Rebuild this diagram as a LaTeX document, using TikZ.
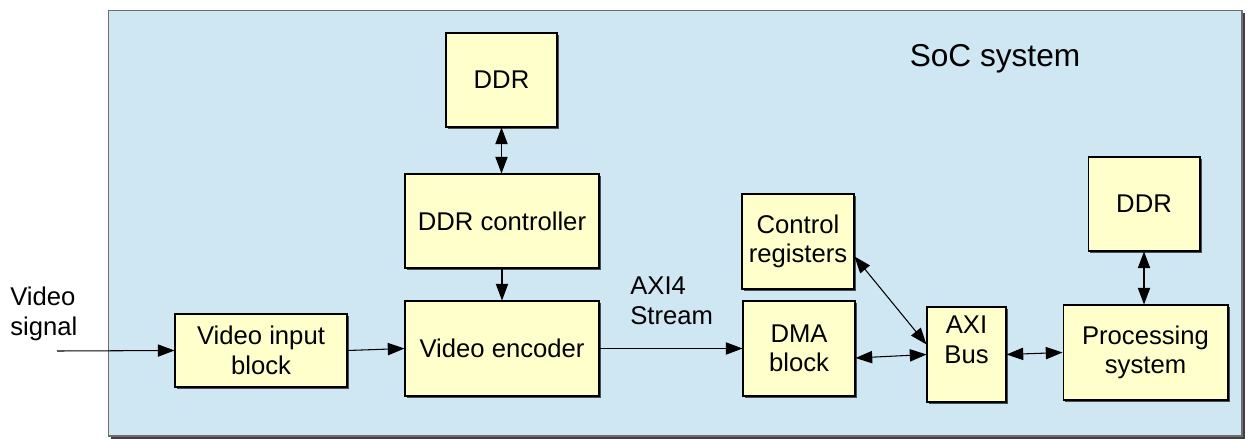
\documentclass[tikz,border=0pt]{standalone}
\usepackage{fontspec}
\setmainfont{Liberation Sans}
\usetikzlibrary{arrows.meta,shadows,calc}
\definecolor{socbg}{RGB}{207,230,243}
\definecolor{blkfill}{RGB}{255,255,204}
\definecolor{socborder}{RGB}{110,110,110}
\tikzset{
  blk/.style={draw=black, fill=blkfill, line width=0.6pt, inner sep=0pt, align=center,
    font=\fontsize{14.6}{16.8}\selectfont,
    drop shadow={shadow xshift=0.035cm, shadow yshift=-0.035cm, fill=black!70, opacity=1}},
  lbl/.style={inner sep=0pt, align=left, font=\fontsize{14.6}{16.8}\selectfont},
  conn/.style={line width=0.6pt, -{Triangle[length=9.5pt,width=7pt]}},
  bconn/.style={line width=0.6pt, {Triangle[length=9.5pt,width=7pt]}-{Triangle[length=9.5pt,width=7pt]}},
}
\begin{document}
\begin{tikzpicture}[x=0.02cm,y=-0.02cm]
\useasboundingbox (0,0) rectangle (1250,439);
% SoC system
\fill[black!75] (111,13) rectangle (1245,439);
\draw[socborder, fill=socbg, line width=1pt] (108.5,10.5) rectangle (1242,436);
\node[inner sep=0pt, font=\fontsize{18}{21}\selectfont] (soc) at (995,59) {SoC system};

% blocks
\node[blk, minimum width=2.22cm, minimum height=1.88cm] (ddra) at (501.5,80) {DDR};
\node[blk, minimum width=3.88cm, minimum height=1.88cm] (ddrc) at (502,221) {DDR controller};
\node[blk, minimum width=3.88cm, minimum height=1.9cm] (enc) at (502,348.5) {Video encoder};
\node[blk, minimum width=3.44cm, minimum height=1.46cm] (vin) at (261,350.5) {Video input\\block};
\node[blk, minimum width=2.24cm, minimum height=1.9cm] (ctrl) at (798,241.5) {Control\\registers};
\node[blk, minimum width=2.24cm, minimum height=1.9cm] (dma) at (799,348.5) {DMA\\block};
\node[blk, minimum width=1.58cm, minimum height=1.9cm] (axi) at (966.5,354.5) {AXI\\Bus\\\mbox{}};
\node[blk, minimum width=2.24cm, minimum height=1.88cm] (ddrb) at (1144,204) {DDR};
\node[blk, minimum width=3.3cm, minimum height=1.9cm] (ps) at (1145.5,352.5) {Processing\\system};

% labels
\node[lbl, anchor=west] (vsig) at (10,314) {Video\\signal};
\node[lbl, anchor=west] (axis) at (630,301) {AXI4\\Stream};

% connectors
\coordinate (vsin) at (57,351);
\draw[conn] (vsin) -- (vin.west);
\draw[conn] (vin.east) -- (enc.west);
\draw[bconn] (ddra.south) -- (ddra.south |- ddrc.north);
\draw[conn] (ddrc.south) -- (enc.north);
\draw[conn] (enc.east) -- (dma.west);
\draw[bconn] ([yshift=-0.19cm]dma.east) -- (axi.west);
\draw[bconn] ([yshift=-0.3cm]ctrl.east) -- ([yshift=0.2cm]axi.west);
\draw[bconn] (axi.east) -- (ps.west);
\draw[bconn] (ddrb.south) -- (ddrb.south |- ps.north);
\end{tikzpicture}
\end{document}
